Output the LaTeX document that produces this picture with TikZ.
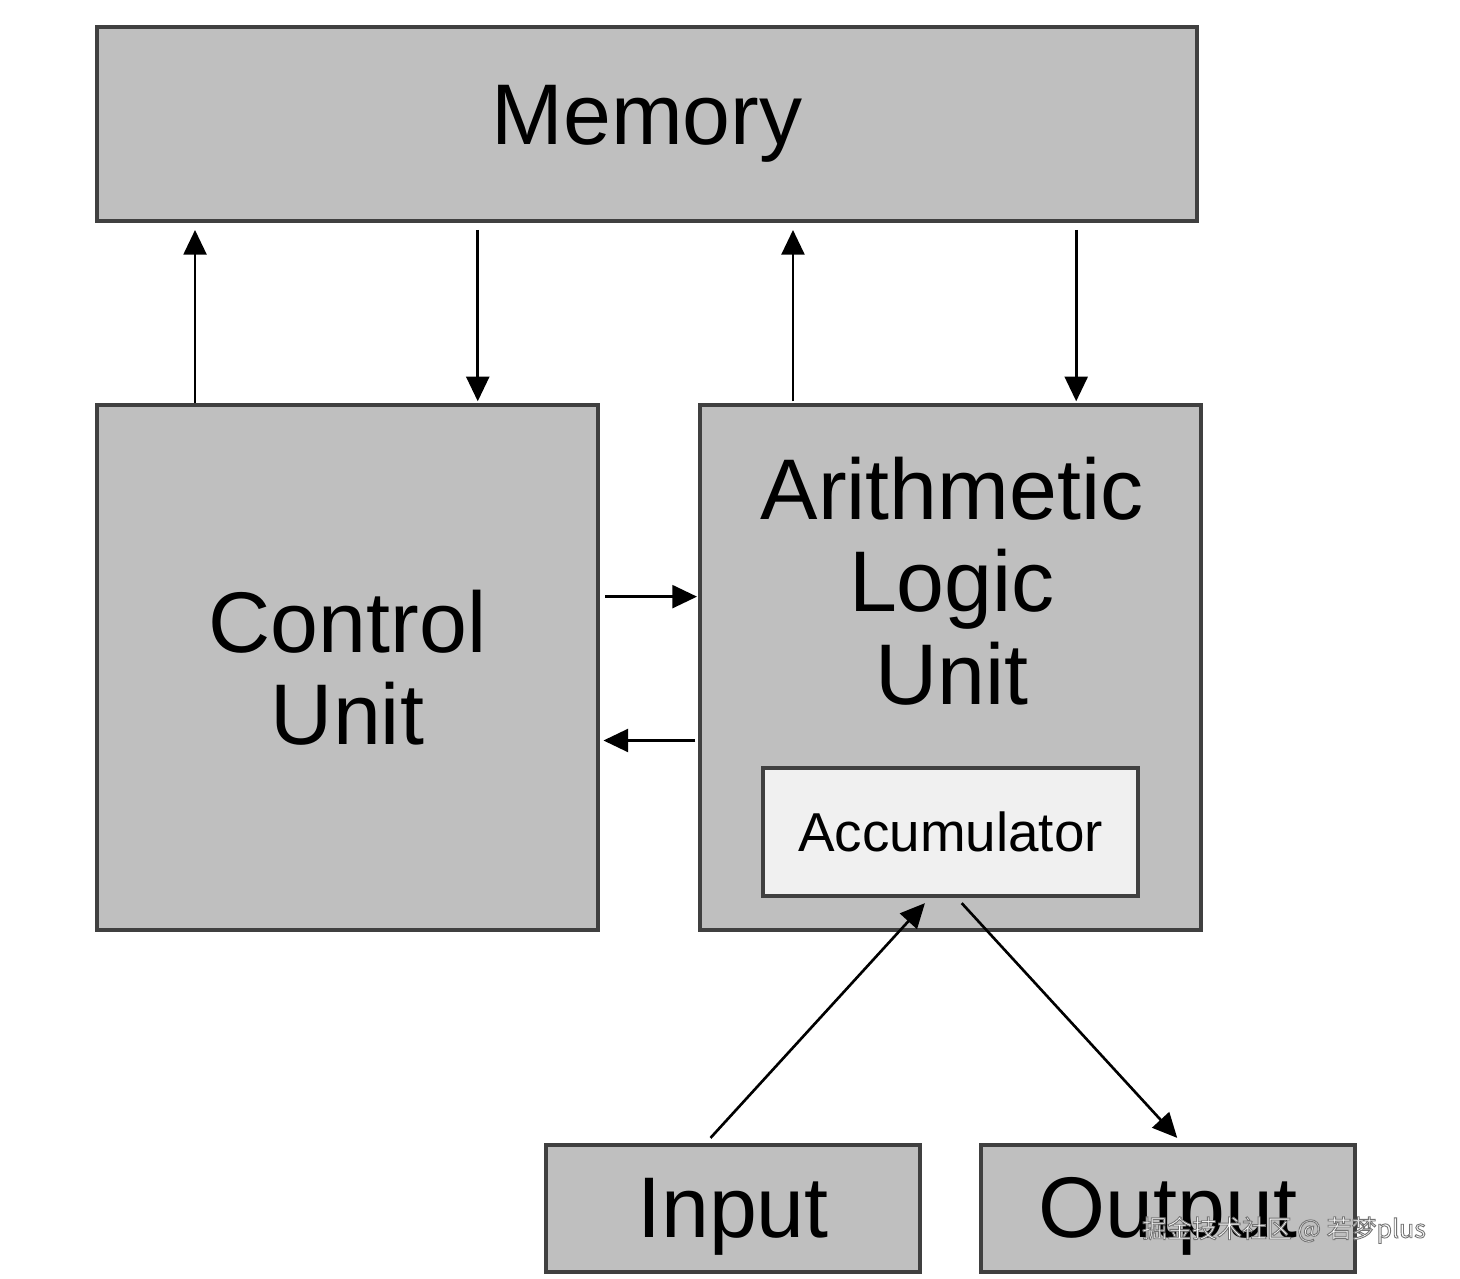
\documentclass[tikz,border=0pt]{standalone}
\usepackage{fontspec}
\setmainfont{Liberation Sans}
\newfontfamily\cjkfont{Noto Sans CJK SC}
\usetikzlibrary{positioning, calc}
\usetikzlibrary{arrows.meta}

\begin{document}
\begin{tikzpicture}[shorten >=1pt, shorten <=1pt, draw=black!100]
	\def \rowoneht{-1.24cm}
	\def \rowtwoht{-6.675cm}
	\def \rowthreeht{-12.085cm}
	\tikzstyle{g-box}=[draw=black!75, line width=1.1pt, fill=black!25, inner sep=0pt, font=\fontsize{24.5}{26.3}\selectfont, align=center]
	\tikzstyle{a-box}=[g-box, fill=black!6, font=\fontsize{15.6}{18}\selectfont]
	\tikzstyle{t-node}=[inner sep=0pt, font=\fontsize{24.5}{26.3}\selectfont, align=center]
	\tikzstyle{arr}=[line width=0.75pt, -{Triangle[length=7pt,width=6.5pt]}]
	\useasboundingbox (0,0) rectangle (14.6,-12.78);
	% boxes
	\node[g-box, minimum width=11cm, minimum height=1.94cm] 	(mem)	at (6.47,\rowoneht)		{Memory};
	\node[g-box, minimum width=5.01cm, minimum height=5.25cm] 	(cu)	at (3.475,\rowtwoht)	{Control\\Unit};
	\node[g-box, minimum width=5.01cm, minimum height=5.25cm] 	(alu)	at (9.505,\rowtwoht)	{};
	\node[t-node] 	(alu-text)	at (9.52,-5.81)		{Arithmetic\\Logic\\Unit};
	\node[a-box, minimum width=3.75cm, minimum height=1.28cm] 	(acc)	at (9.505,-8.32)	{Accumulator};
	\node[g-box, text height=21.3pt, minimum width=3.74cm, minimum height=1.27cm] 	(in)	at (7.33,\rowthreeht)	{Input};
	\node[g-box, text height=21.3pt, minimum width=3.74cm, minimum height=1.27cm] 	(out)	at (11.68,\rowthreeht)	{Output};
	% points on the box edges
	\coordinate (cu-up)	at ($(cu.north west)!0.198!(cu.north east)$);
	\coordinate (cu-down)	at ($(cu.north west)!0.758!(cu.north east)$);
	\coordinate (alu-up)	at ($(alu.north west)!0.188!(alu.north east)$);
	\coordinate (alu-down)	at ($(alu.north west)!0.749!(alu.north east)$);
	\coordinate (cu-r1)	at ($(cu.north east)!0.366!(cu.south east)$);
	\coordinate (cu-r2)	at ($(cu.north east)!0.638!(cu.south east)$);
	\coordinate (in-top)	at ($(in.north west)!0.428!(in.north east)$);
	\coordinate (out-top)	at ($(out.north west)!0.537!(out.north east)$);
	\coordinate (acc-in)	at ($(acc.south west)!0.445!(acc.south east)$);
	\coordinate (acc-out)	at ($(acc.south west)!0.517!(acc.south east)$);
	% arrows
	\draw[arr, shorten >=2pt, shorten <=0pt] (cu-up) -- (cu-up |- mem.south);
	\draw[arr, shorten <=2pt, shorten >=0.5pt] (cu-down |- mem.south) -- (cu-down);
	\draw[arr, shorten >=2pt, shorten <=0.5pt] (alu-up) -- (alu-up |- mem.south);
	\draw[arr, shorten <=2pt, shorten >=0.5pt] (alu-down |- mem.south) -- (alu-down);
	\draw[arr, shorten <=1.5pt, shorten >=0.3pt] (cu-r1) -- (cu-r1 -| alu.west);
	\draw[arr, shorten <=0.8pt, shorten >=1pt] (cu-r2 -| alu.west) -- (cu-r2);
	\draw[arr, shorten <=2pt, shorten >=2pt] (in-top) -- (acc-in);
	\draw[arr, shorten <=2pt, shorten >=2pt] (acc-out) -- (out-top);
	% watermark
	\node[inner sep=0pt, text=white, font=\fontsize{7.1}{8}\selectfont] 	(wm)	at (12.84,-12.30)	{\special{pdf:code 2 Tr 0.25 w 0.45 G}\cjkfont 掘金技术社区 @ 若梦plus\special{pdf:code 0 Tr}};
\end{tikzpicture}
\end{document}
